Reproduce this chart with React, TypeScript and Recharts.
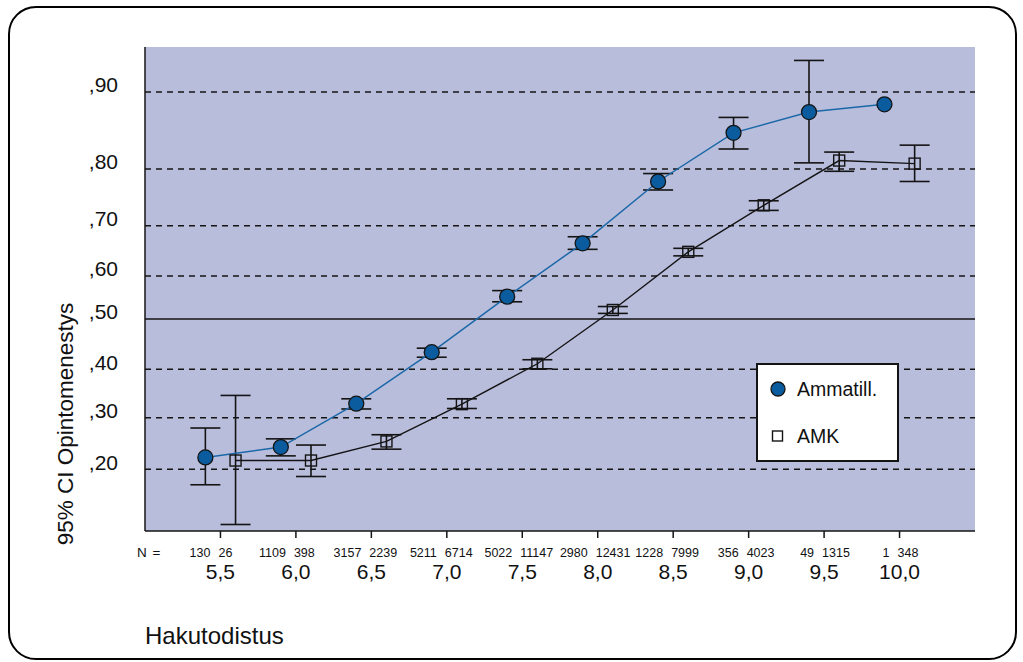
import {
    ComposedChart,
    Line,
    XAxis,
    YAxis,
    CartesianGrid,
    ReferenceLine,
    ErrorBar,
    Legend,
} from "recharts";

const CATEGORIES = [5.5, 6.0, 6.5, 7.0, 7.5, 8.0, 8.5, 9.0, 9.5, 10.0];
const CATEGORY_LABELS = ["5,5", "6,0", "6,5", "7,0", "7,5", "8,0", "8,5", "9,0", "9,5", "10,0"];

const AMMATILL_MEAN = [0.223, 0.243, 0.329, 0.434, 0.552, 0.665, 0.778, 0.847, 0.874, 0.884];
const AMMATILL_LOW = [0.17, 0.226, 0.318, 0.424, 0.54, 0.653, 0.763, 0.826, 0.808, null];
const AMMATILL_HIGH = [0.28, 0.259, 0.339, 0.442, 0.566, 0.678, 0.792, 0.867, 0.941, null];
const AMMATILL_N = [130, 1109, 3157, 5211, 5022, 2980, 1228, 356, 49, 1];

const AMK_MEAN = [0.217, 0.217, 0.254, 0.328, 0.411, 0.521, 0.648, 0.736, 0.811, 0.807];
const AMK_LOW = [0.093, 0.186, 0.239, 0.319, 0.401, 0.513, 0.64, 0.727, 0.796, 0.778];
const AMK_HIGH = [0.346, 0.247, 0.267, 0.339, 0.419, 0.529, 0.655, 0.744, 0.822, 0.831];
const AMK_N = [26, 398, 2239, 6714, 11147, 12431, 7999, 4023, 1315, 348];

const LEGEND_ORDER = ["Ammatill.", "AMK"];

const Y_TICKS = [0.2, 0.3, 0.4, 0.5, 0.6, 0.7, 0.8, 0.9];
const Y_TICK_LABELS = [",20", ",30", ",40", ",50", ",60", ",70", ",80", ",90"];

// the value axis is not linear in the original (probit-like): where each tick
// sits, as a share of the plot height from the bottom
const Y_SPOTS = [0.1275, 0.2341, 0.3341, 0.438, 0.5269, 0.6308, 0.7479, 0.907];

const FONT = "'Liberation Sans', Arial, Helvetica, sans-serif";
const PLOT_BG = "#b8bddc";
const INK = "#141414";
const BLUE = "#0b5c9e";
const BLUE_LINE = "#1b68a8";

function warp(v: number) {
    const n = Y_TICKS.length;
    let i = 0;
    if (v >= Y_TICKS[n - 1]) i = n - 2;
    else if (v > Y_TICKS[0]) while (v > Y_TICKS[i + 1]) i++;
    const t = (v - Y_TICKS[i]) / (Y_TICKS[i + 1] - Y_TICKS[i]);
    return Y_SPOTS[i] + t * (Y_SPOTS[i + 1] - Y_SPOTS[i]);
}

function buildSeries(mean: number[], low: (number | null)[], high: (number | null)[], shift: number) {
    return CATEGORIES.map((c, i) => {
        const y = warp(mean[i]);
        const lo = low[i];
        const hi = high[i];
        return {
            x: c + shift,
            y,
            err: lo == null || hi == null ? null : [y - warp(lo), warp(hi) - y],
        };
    });
}

const ammatillData = buildSeries(AMMATILL_MEAN, AMMATILL_LOW, AMMATILL_HIGH, -0.1);
const amkData = buildSeries(AMK_MEAN, AMK_LOW, AMK_HIGH, 0.1);

// eslint-disable-next-line @typescript-eslint/no-explicit-any
function CircleDot({ cx, cy }: any) {
    if (cx == null || cy == null) return null;
    return <circle cx={cx} cy={cy} r={7.5} fill={BLUE} stroke={INK} strokeWidth={1.3} />;
}

// eslint-disable-next-line @typescript-eslint/no-explicit-any
function SquareDot({ cx, cy }: any) {
    if (cx == null || cy == null) return null;
    return (
        <rect x={cx - 5.5} y={cy - 5.5} width={11} height={11} fill="none" stroke={INK} strokeWidth={1.4} />
    );
}

// eslint-disable-next-line @typescript-eslint/no-explicit-any
function XTick({ x, y, payload }: any) {
    const i = CATEGORIES.findIndex((c) => Math.abs(c - payload.value) < 1e-6);
    if (i < 0) return null;
    return (
        <g fontFamily={FONT} fill="#111">
            <line x1={x} y1={y} x2={x} y2={y + 7} stroke={INK} strokeWidth={1.5} />
            <text x={x - 10} y={y + 22} textAnchor="end" dominantBaseline="central" fontSize={12.5}>
                {AMMATILL_N[i]}
            </text>
            <text x={x - 2} y={y + 22} textAnchor="start" dominantBaseline="central" fontSize={12.5}>
                {AMK_N[i]}
            </text>
            <text x={x} y={y + 40} textAnchor="middle" dominantBaseline="central" fontSize={21}>
                {CATEGORY_LABELS[i]}
            </text>
        </g>
    );
}

// eslint-disable-next-line @typescript-eslint/no-explicit-any
function LegendBox({ payload }: any) {
    // eslint-disable-next-line @typescript-eslint/no-explicit-any
    const items = LEGEND_ORDER.map((name) => (payload ?? []).find((p: any) => p.value === name)).filter(Boolean);
    return (
        <svg width={143} height={99} style={{ display: "block" }}>
            <rect x={1} y={1} width={141} height={97} fill="#fff" stroke={INK} strokeWidth={2} />
            {/* eslint-disable-next-line @typescript-eslint/no-explicit-any */}
            {items.map((entry: any, idx: number) => {
                const cy = idx === 0 ? 26 : 73;
                return (
                    <g key={entry.value}>
                        {idx === 0 ? (
                            <circle cx={22} cy={cy} r={7} fill={BLUE} stroke={INK} strokeWidth={1.3} />
                        ) : (
                            <rect x={16.5} y={cy - 5} width={10} height={10} fill="none" stroke={INK} strokeWidth={1.4} />
                        )}
                        <text x={41} y={cy} dominantBaseline="central" fontFamily={FONT} fontSize={19.5} fill="#111">
                            {entry.value}
                        </text>
                    </g>
                );
            })}
        </svg>
    );
}

export default function App() {
    const yTickValues = Y_TICKS.map(warp);

    return (
        <div style={{ position: "relative", width: 1023, height: 662, fontFamily: FONT, color: "#111" }}>
            <style>{"body { margin: 0; }"}</style>
            <div
                style={{
                    position: "absolute",
                    left: 8,
                    top: 6,
                    width: 1009,
                    height: 654,
                    boxSizing: "border-box",
                    border: "2px solid #000",
                    borderRadius: 28,
                }}
            />
            <div
                style={{
                    position: "absolute",
                    left: 66,
                    top: 424,
                    transform: "translate(-50%, -50%) rotate(-90deg)",
                    whiteSpace: "nowrap",
                    fontSize: 22.5,
                    lineHeight: 1,
                }}
            >
                95% CI Opintomenestys
            </div>
            <div style={{ position: "absolute", left: 137, top: 546, fontSize: 13.5, lineHeight: 1, wordSpacing: 2 }}>
                N =
            </div>
            <div style={{ position: "absolute", left: 145, top: 624, fontSize: 24, lineHeight: 1 }}>
                Hakutodistus
            </div>
            <div style={{ position: "absolute", left: 0, top: 0 }}>
                <ComposedChart width={1023} height={662} margin={{ top: 47, right: 48, bottom: 71, left: 0 }}>
                    <CartesianGrid fill={PLOT_BG} horizontal={false} vertical={false} stroke="none" />
                    <XAxis
                        type="number"
                        dataKey="x"
                        domain={[5, 10.5]}
                        ticks={CATEGORIES}
                        interval={0}
                        height={60}
                        tickSize={0}
                        tickMargin={0}
                        tickLine={false}
                        axisLine={{ stroke: INK, strokeWidth: 1.5 }}
                        tick={<XTick />}
                        allowDataOverflow
                    />
                    <YAxis
                        type="number"
                        domain={[0, 1]}
                        ticks={yTickValues}
                        interval={0}
                        width={145}
                        tickSize={0}
                        tickMargin={27}
                        tickLine={false}
                        axisLine={{ stroke: INK, strokeWidth: 1.5 }}
                        tick={{ fontSize: 21, fill: "#111", fontFamily: FONT, dy: -7 }}
                        tickFormatter={(v: number) => {
                            const k = yTickValues.findIndex((t) => Math.abs(t - v) < 1e-6);
                            return k < 0 ? "" : Y_TICK_LABELS[k];
                        }}
                        allowDataOverflow
                    />
                    {Y_TICKS.map((t) => (
                        <ReferenceLine
                            key={t}
                            y={warp(t)}
                            stroke={INK}
                            strokeWidth={t === 0.5 ? 1.3 : 1.6}
                            strokeDasharray={t === 0.5 ? undefined : "6 5"}
                        />
                    ))}
                    <Legend
                        layout="vertical"
                        align="center"
                        verticalAlign="middle"
                        wrapperStyle={{ left: 756, top: 363, width: 143, height: 99 }}
                        content={<LegendBox />}
                    />
                    <Line
                        data={amkData}
                        dataKey="y"
                        name="AMK"
                        stroke={INK}
                        strokeWidth={1.4}
                        type="linear"
                        dot={<SquareDot />}
                        activeDot={false}
                        isAnimationActive={false}
                    >
                        <ErrorBar dataKey="err" width={15} stroke={INK} strokeWidth={1.6} direction="y" />
                    </Line>
                    <Line
                        data={ammatillData}
                        dataKey="y"
                        name="Ammatill."
                        stroke={BLUE_LINE}
                        strokeWidth={1.5}
                        type="linear"
                        dot={<CircleDot />}
                        activeDot={false}
                        isAnimationActive={false}
                    >
                        <ErrorBar dataKey="err" width={15} stroke={INK} strokeWidth={1.6} direction="y" />
                    </Line>
                </ComposedChart>
            </div>
        </div>
    );
}
